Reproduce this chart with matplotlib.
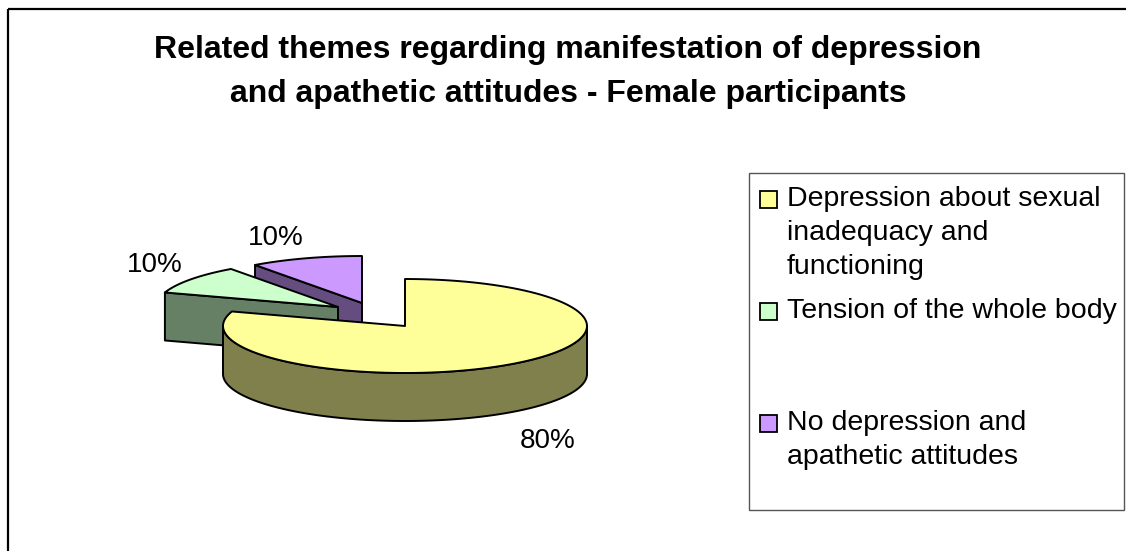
import numpy as np
import matplotlib.pyplot as plt
from matplotlib.patches import Polygon, Rectangle
from matplotlib.colors import to_rgb

plt.rcParams['font.family'] = ['Liberation Sans', 'DejaVu Sans']

title = "Related themes regarding manifestation of depression\nand apathetic attitudes - Female participants"
categories = ["Depression about sexual\ninadequacy and\nfunctioning",
              "Tension of the whole body",
              "No depression and\napathetic attitudes"]
values = [80, 10, 10]
colors = ["#FFFF99", "#CCFFCC", "#CC99FF"]

# pie drawn in pixel space: centre, radii of the top ellipse, thickness
cx, cy = 405, 326
rx, ry = 182, 47
depth = 48
explode = [(0, 0), (-67, -19), (-43, -23)]
label_pos = [(548, 441), (155, 265), (276, 238)]

W, H = 1126, 551
fig = plt.figure(figsize=(W / 100, H / 100), dpi=100)
ax = fig.add_axes([0, 0, 1, 1])
ax.set_xlim(0, W)
ax.set_ylim(H, 0)
ax.axis('off')


def darker(c, f=0.5):
    r, g, b = to_rgb(c)
    return (r * f, g * f, b * f)


def arc(x0, y0, a0, a1, n=120):
    t = np.radians(np.linspace(a0, a1, n))
    return np.column_stack([x0 + rx * np.cos(t), y0 - ry * np.sin(t)])


def face(pts, color, z):
    ax.add_patch(Polygon(pts, closed=True, facecolor=color, edgecolor='black',
                         lw=1.4, joinstyle='round', zorder=z))


total = float(sum(values))
starts, ends = [], []
a = 90.0
for v in values:
    starts.append(a)
    ends.append(a - 360.0 * v / total)
    a = ends[-1]

# back slices first
order = sorted(range(len(values)),
               key=lambda i: -np.sin(np.radians((starts[i] + ends[i]) / 2)))

z = 2
for i in order:
    a_hi, a_lo = starts[i], ends[i]
    x0, y0 = cx + explode[i][0], cy + explode[i][1]
    side = darker(colors[i])

    # radial cut faces that turn towards the viewer
    for ang, vis in ((a_hi, np.cos(np.radians(a_hi)) < -1e-6),
                     (a_lo, np.cos(np.radians(a_lo)) > 1e-6)):
        if vis:
            p = arc(x0, y0, ang, ang, 1)[0]
            face([(x0, y0), tuple(p), (p[0], p[1] + depth), (x0, y0 + depth)], side, z)
            z += 1

    # outer wall on the front half
    for k in range(-2, 2):
        lo = max(a_lo, -180 + 360 * k)
        hi = min(a_hi, 360 * k)
        if hi > lo:
            top = arc(x0, y0, lo, hi)
            bot = top[::-1] + [0, depth]
            face(np.vstack([top, bot]), side, z)
            z += 1

    # top surface
    face(np.vstack([[x0, y0], arc(x0, y0, a_lo, a_hi)]), colors[i], z)
    z += 1

for v, (lx, ly) in zip(values, label_pos):
    ax.text(lx, ly, f"{v:.0f}%", fontsize=20, ha='center', va='center')

ax.text(568, 72, title, fontsize=23, fontweight='bold', ha='center', va='center',
        linespacing=1.6)

# legend box
ax.add_patch(Rectangle((749, 173), 375, 337, facecolor='white', edgecolor='#555555',
                       lw=1.0, zorder=1))
entry_y = [199, 311, 423]
for name, c, y in zip(categories, colors, entry_y):
    ax.add_patch(Rectangle((760, y - 8.5), 17, 17, facecolor=c, edgecolor='black',
                           lw=1.3, zorder=3))
    for j, line in enumerate(name.split("\n")):
        ax.text(787, y + 34 * j, line, fontsize=20.5, ha='left', va='center', zorder=3)

# outer frame
ax.plot([8, W], [9, 9], color='black', lw=1.6, solid_capstyle='butt')
ax.plot([8, 8], [9, H], color='black', lw=1.6, solid_capstyle='butt')

fig.savefig("out.png", dpi=100)
